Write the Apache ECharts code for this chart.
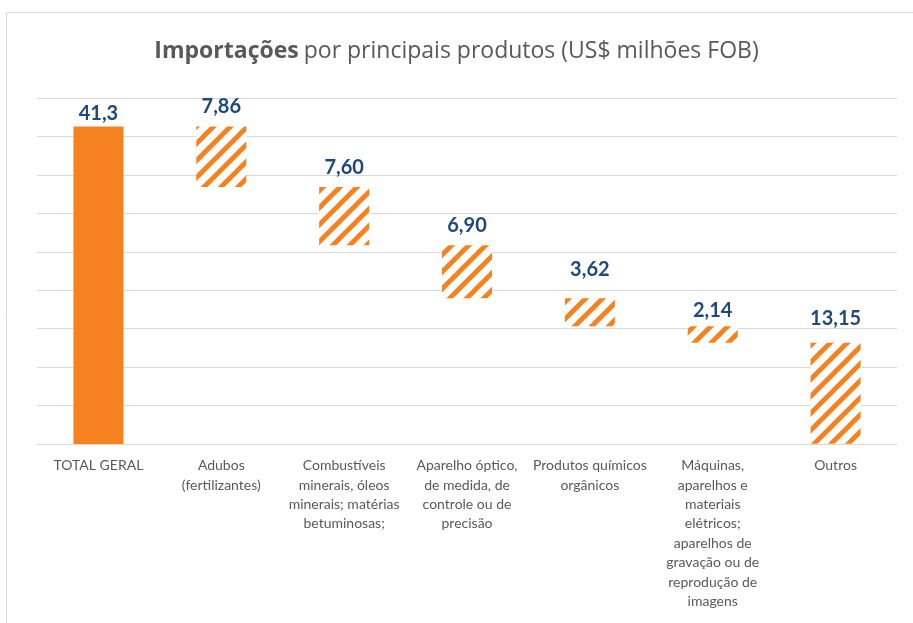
<!DOCTYPE html>
<html><head><meta charset="utf-8">
<script src="https://cdn.jsdelivr.net/npm/echarts@6/dist/echarts.min.js"></script>
<style>html,body{margin:0;padding:0;background:#fff}#c{width:913px;height:623px}</style>
</head><body><div id="c"></div>
<script>
const categories = ["TOTAL GERAL","Adubos\n(fertilizantes)","Combustíveis\nminerais, óleos\nminerais; matérias\nbetuminosas;","Aparelho óptico,\nde medida, de\ncontrole ou de\nprecisão","Produtos químicos\norgânicos","Máquinas,\naparelhos e\nmateriais\nelétricos;\naparelhos de\ngravação ou de\nreprodução de\nimagens","Outros"];
const values = [41.3, 7.86, 7.60, 6.90, 3.62, 2.14, 13.15];
const valueLabels = ["41,3","7,86","7,60","6,90","3,62","2,14","13,15"];
const yTicks = [0,5,10,15,20,25,30,35,40,45];

// waterfall bases from the values
const bases = [];
let run = values[0];
bases.push(0);
for (let i = 1; i < values.length; i++) { run -= values[i]; bases.push(Math.max(run,0)); }

const labelGap = [3,10,9,10,19,6,14];

const ORANGE = '#F5821F';
const S = 17;
const pc = document.createElement('canvas');
pc.width = S; pc.height = S;
const g = pc.getContext('2d');
g.fillStyle = '#fff'; g.fillRect(0,0,S,S);
g.strokeStyle = ORANGE; g.lineWidth = 4.8; g.lineCap='butt';
for (let k = -1; k <= 1; k++) {
  g.beginPath(); g.moveTo(-3 + k*S, S+3); g.lineTo(S+3 + k*S, -3); g.stroke();
}
const hatch = {image: pc, repeat: 'repeat'};

const chart = echarts.init(document.getElementById('c'));
chart.setOption({
  animation:false,
  backgroundColor:'#fff',
  title:{
    text:'{b|Importações} {n|por principais produtos (US$ milhões FOB)}',
    left:'center', top:35,
    textStyle:{fontWeight:'normal',rich:{
      b:{fontFamily:'Open Sans',fontWeight:'bold',fontSize:23,color:'#595959'},
      n:{fontFamily:'Open Sans',fontWeight:'normal',fontSize:23,color:'#595959'}
    }}
  },
  graphic:[{type:'rect',shape:{x:6.5,y:12.5,width:1000,height:1000},style:{fill:'none',stroke:'#d9d9d9',lineWidth:1},silent:true}],
  grid:{left:37,right:16,top:98,bottom:179},
  xAxis:{type:'category',data:categories,
    axisLine:{lineStyle:{color:'#d9d9d9',width:1}},axisTick:{show:false},
    axisLabel:{interval:0,color:'#595959',fontFamily:'Lato',fontSize:14,lineHeight:19.4,margin:12}
  },
  yAxis:{type:'value',min:0,max:45,interval:5,
    axisLabel:{show:false},axisLine:{show:false},axisTick:{show:false},
    splitLine:{lineStyle:{color:'#d9d9d9',width:1}}
  },
  series:[
    {type:'bar',stack:'w',data:bases,barWidth:50,itemStyle:{color:'rgba(0,0,0,0)'},silent:true},
    {type:'bar',stack:'w',barWidth:50,
      data:values.map((v,i)=>({value:v,itemStyle:{color:i===0?ORANGE:hatch},label:{distance:labelGap[i]}})),
      label:{show:true,position:'top',formatter:p=>valueLabels[p.dataIndex],
        color:'#1F497D',fontFamily:'Lato',fontWeight:'bold',fontSize:20}
    }
  ]
});
</script></body></html>
